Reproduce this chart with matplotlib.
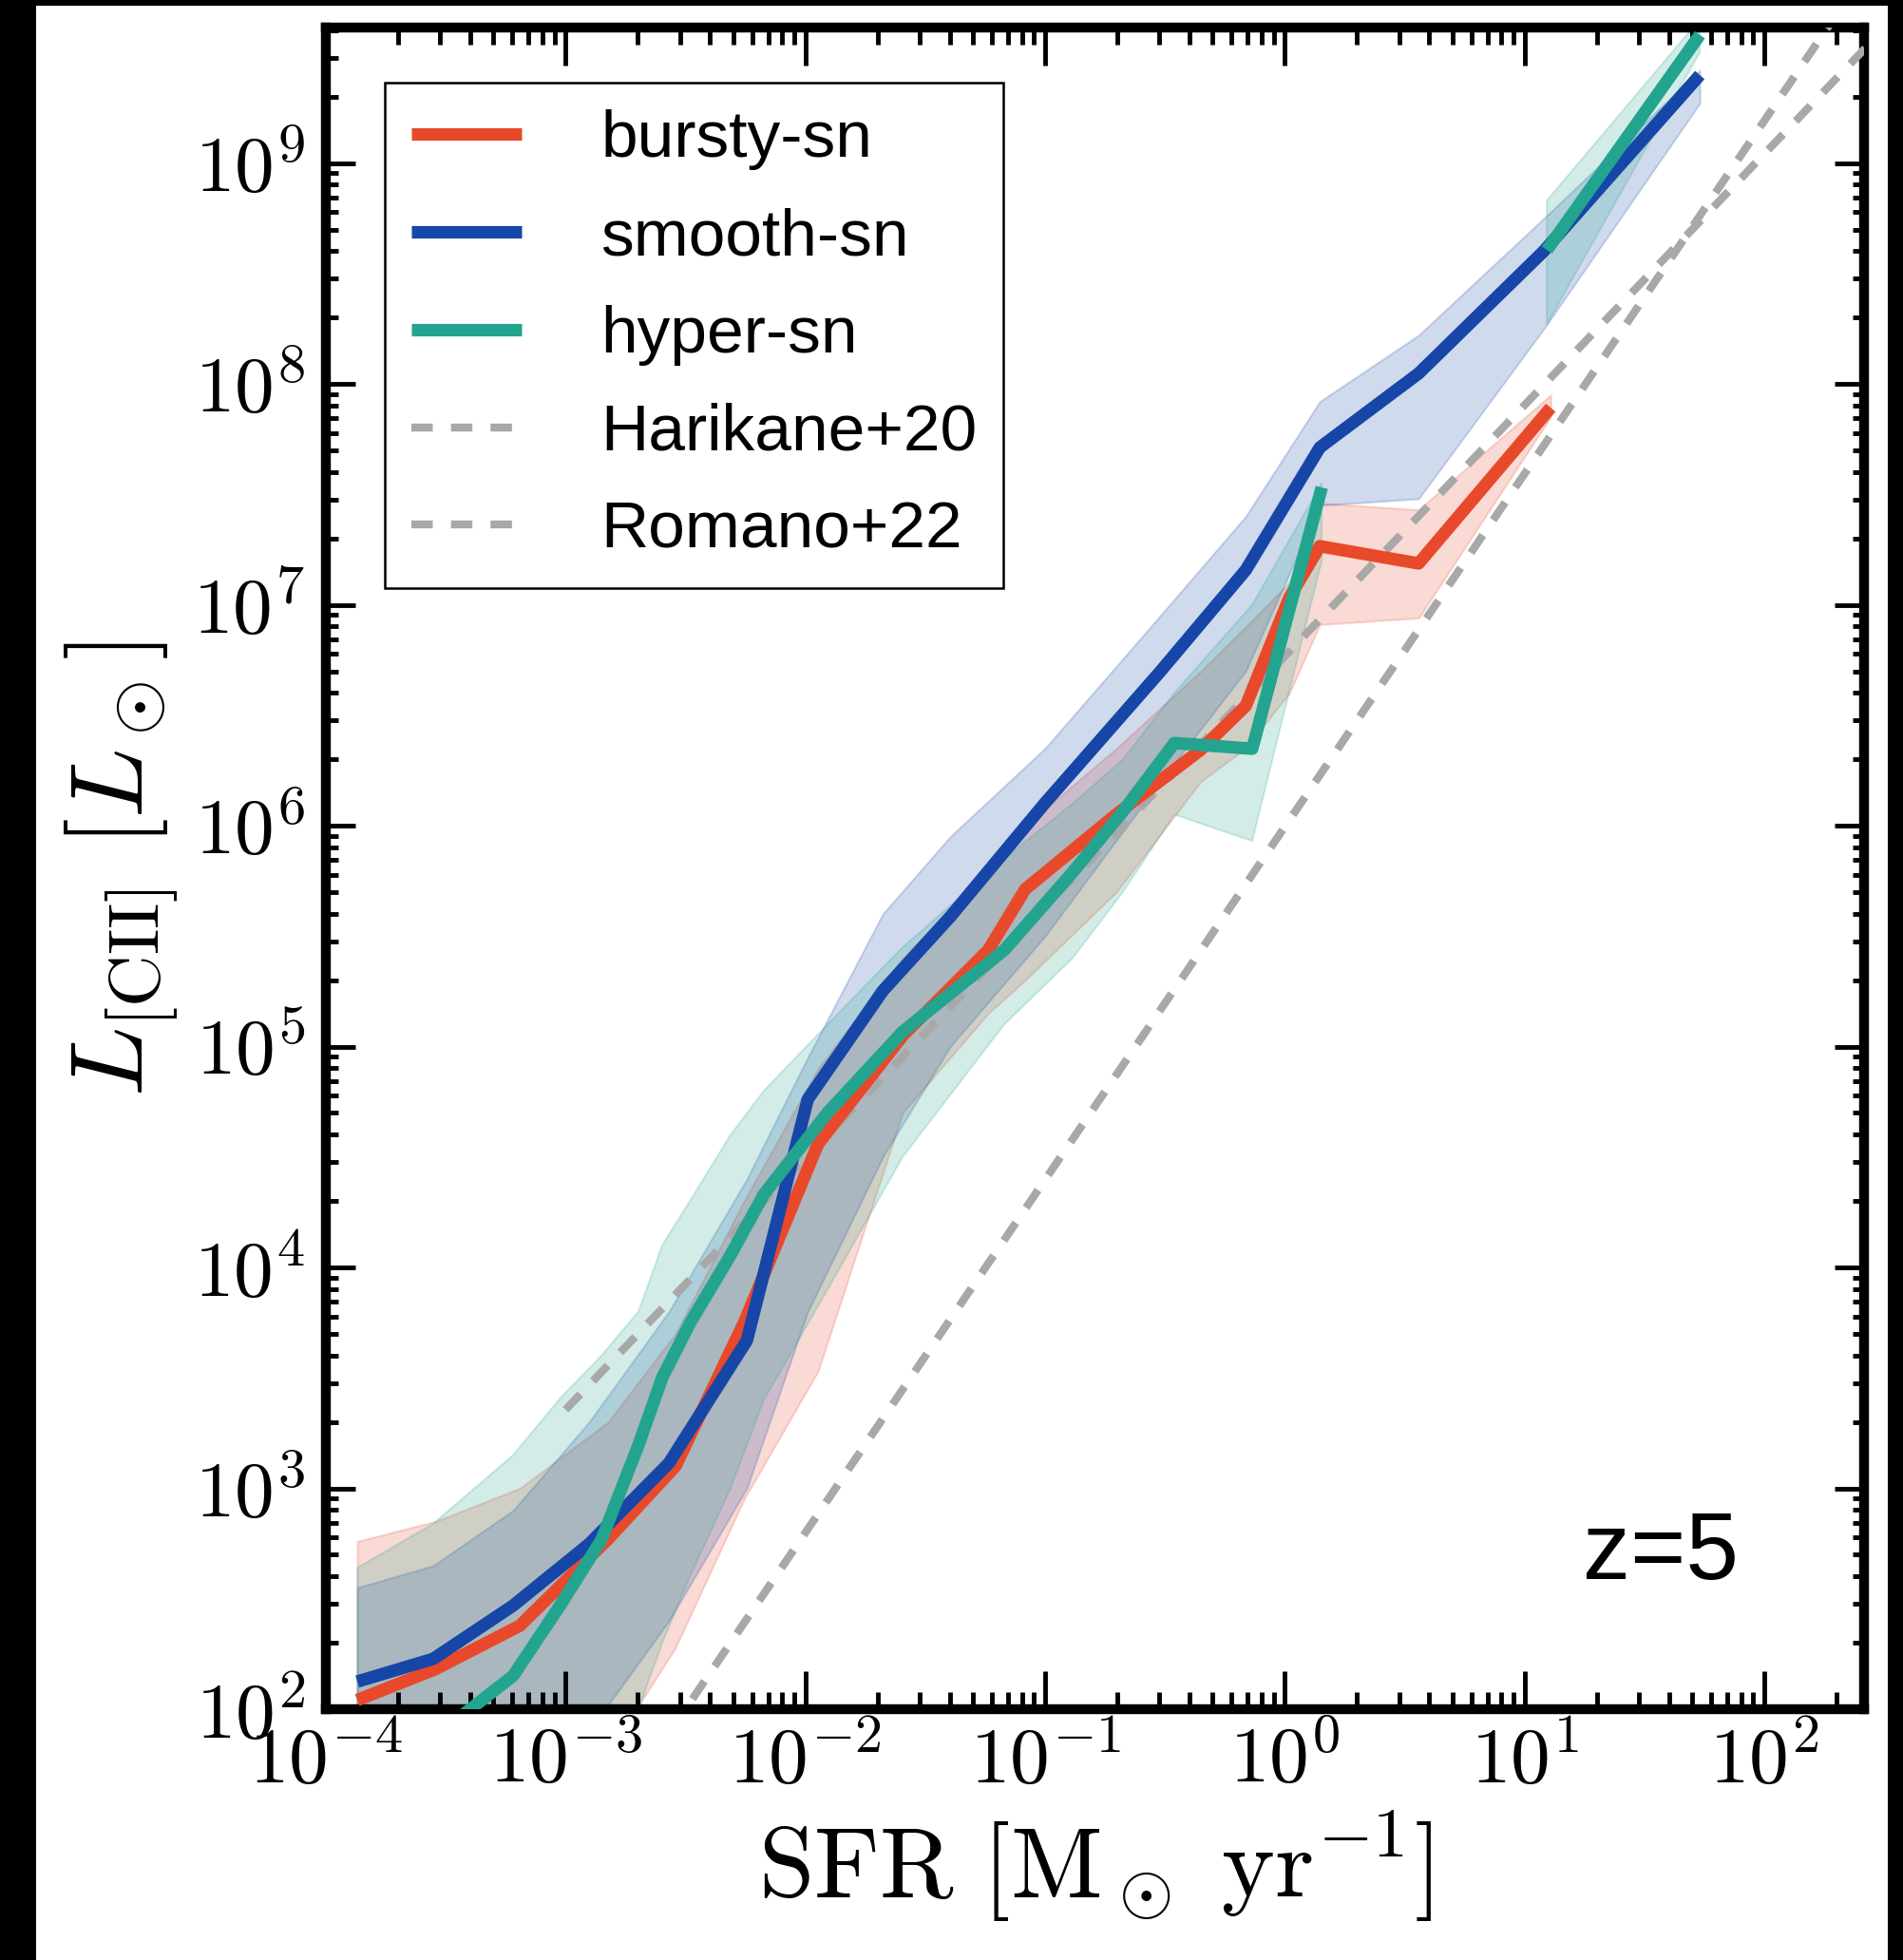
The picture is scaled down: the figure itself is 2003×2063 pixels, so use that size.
import numpy as np
import matplotlib
matplotlib.use("Agg")
from matplotlib import pyplot as plt
from matplotlib.patches import Rectangle
from matplotlib.ticker import LogLocator, NullFormatter

plt.rcParams['mathtext.fontset'] = 'cm'
plt.rcParams['font.family'] = ['Liberation Sans', 'DejaVu Sans']

# log10 SFR / log10 L[CII]
bursty_x = [-3.869, -3.544, -3.191, -2.823, -2.541, -2.256, -1.947, -1.594, -1.237,
            -1.083, -0.702, -0.350, -0.163, 0.019, 0.146, 0.558, 1.109]
bursty_y = [2.041, 2.181, 2.378, 2.770, 3.101, 3.75, 4.559, 5.049, 5.437,
            5.712, 6.052, 6.344, 6.542, 7.032, 7.265, 7.187, 7.892]
bursty_lo = [1.0, 1.2, 1.5, 1.8, 2.28, 2.95, 3.53, 4.7, 5.15, 5.3, 5.7, 6.2, 6.35,
             6.6, 6.91, 6.94, 7.85]
bursty_hi = [2.76, 2.85, 3.0, 3.3, 3.7, 4.3, 4.9, 5.4, 5.8, 6.0, 6.35, 6.7, 6.9,
             7.1, 7.46, 7.43, 7.95]

smooth_x = [-3.869, -3.552, -3.219, -2.902, -2.569, -2.244, -1.990, -1.677, -1.396,
            -1.000, -0.520, -0.163, 0.146, 0.558, 1.081, 1.731]
smooth_y = [2.125, 2.228, 2.469, 2.748, 3.114, 3.669, 4.761, 5.252, 5.587,
            6.103, 6.697, 7.157, 7.712, 8.047, 8.602, 9.398]
smooth_lo = [1.0, 1.3, 1.6, 1.9, 2.4, 3.0, 3.8, 4.5, 5.0, 5.5, 6.2, 6.7, 7.45,
             7.48, 8.25, 9.27]
smooth_hi = [2.55, 2.65, 2.9, 3.3, 3.8, 4.4, 4.95, 5.6, 5.95, 6.35, 6.95, 7.4,
             7.92, 8.22, 8.75, 9.42]

hyper_x = [-3.869, -3.552, -3.219, -3.021, -2.851, -2.696, -2.597, -2.482, -2.312,
           -2.173, -1.907, -1.594, -1.170, -0.885, -0.675, -0.461, -0.136, 0.154,
           0.55, 1.093, 1.731]
hyper_y = [1.6, 1.87, 2.151, 2.473, 2.766, 3.196, 3.501, 3.746, 4.056,
           4.331, 4.701, 5.067, 5.437, 5.789, 6.065, 6.374, 6.348, 7.531,
           np.nan, 8.606, 9.58]
hyper_lo = [0.8, 1.0, 1.3, 1.55, 1.85, 2.0, 2.3, 2.6, 3.0, 3.4, 3.9, 4.5, 5.1,
            5.4, 5.7, 6.05, 5.93, 7.2, np.nan, 8.27, 9.5]
hyper_hi = [2.64, 2.84, 3.15, 3.41, 3.6, 3.8, 4.1, 4.3, 4.6, 4.8, 5.1, 5.45,
            5.85, 6.1, 6.3, 6.6, 7.0, 7.55, np.nan, 8.83, 9.65]

# literature relations: log L = slope * log SFR + norm
harikane_slope, harikane_norm = 1.598, 5.995
romano_slope, romano_norm = 1.137, 6.767

red = '#e8492a'
blue = '#1646a8'
green = '#23a48f'
grey = '#a8a8a8'

fig = plt.figure(figsize=(20.03, 20.63), dpi=100, facecolor='black')
fig.patches.append(Rectangle((38 / 2003, 0), (1987 - 38) / 2003, 1 - 6 / 2063,
                             transform=fig.transFigure, facecolor='white',
                             edgecolor='none', zorder=-10))
ax = fig.add_axes([343 / 2003, 1 - 1799 / 2063, (1962 - 343) / 2003, (1799 - 29) / 2063])
ax.set_zorder(1)

for xs, ys, lo, hi, c, lab in [(bursty_x, bursty_y, bursty_lo, bursty_hi, red, 'bursty-sn'),
                                (smooth_x, smooth_y, smooth_lo, smooth_hi, blue, 'smooth-sn'),
                                (hyper_x, hyper_y, hyper_lo, hyper_hi, green, 'hyper-sn')]:
    sx = 10 ** np.array(xs)
    ax.fill_between(sx, 10 ** np.array(lo), 10 ** np.array(hi), color=c, alpha=0.2,
                    lw=1.5)
    ax.plot(sx, 10 ** np.array(ys), color=c, lw=9.5, label=lab,
            solid_capstyle='butt', zorder=5)

sfr = np.logspace(-4, 3, 50)
ax.plot(sfr, 10 ** (harikane_slope * np.log10(sfr) + harikane_norm), color=grey,
        lw=6, dashes=(2.7, 2.3), label='Harikane+20', zorder=4)
sfr2 = np.logspace(-3, 3, 50)
ax.plot(sfr2, 10 ** (romano_slope * np.log10(sfr2) + romano_norm), color=grey,
        lw=6, dashes=(2.7, 2.3), label='Romano+22', zorder=4)

ax.set_xscale('log')
ax.set_yscale('log')

ax.xaxis.set_minor_locator(LogLocator(base=10, subs=np.arange(2, 10), numticks=20))
ax.yaxis.set_minor_locator(LogLocator(base=10, subs=np.arange(2, 10), numticks=20))
ax.xaxis.set_minor_formatter(NullFormatter())
ax.yaxis.set_minor_formatter(NullFormatter())
ax.set_xticks([10.0 ** k for k in range(-4, 3)])
ax.set_xticklabels([r'$10^{%d}$' % k for k in range(-4, 3)])
ax.set_yticks([10.0 ** k for k in range(2, 10)])
ax.set_yticklabels([r'$10^{%d}$' % k for k in range(2, 10)])
ax.set_xlim(1e-4, 10 ** 2.416)
ax.set_ylim(1e2, 10 ** 9.613)

ax.tick_params(axis='x', which='major', direction='in', length=29, width=3.5,
               top=True, labelsize=60, pad=12)
ax.tick_params(axis='x', which='minor', direction='in', length=13, width=3.5, top=True)
ax.tick_params(axis='y', which='major', direction='in', length=22, width=3.5,
               right=True, labelsize=60, pad=16)
ax.tick_params(axis='y', which='minor', direction='in', length=9, width=3.5, right=True)
for s in ax.spines.values():
    s.set_linewidth(7.5)

ax.set_xlabel(r'${\rm SFR}\ [{\rm M_\odot\ yr^{-1}}]$', fontsize=76, labelpad=8)
ax.set_ylabel(r'$L_{\rm [CII]}\ [L_\odot]$', fontsize=78, labelpad=10)

ax.text(0.868, 0.092, 'z=5', transform=ax.transAxes, fontsize=72, ha='center',
        va='center')

leg = ax.legend(loc='upper left', bbox_to_anchor=(0.0383, 0.967), borderaxespad=0,
                fontsize=50, handlelength=1.67, handletextpad=1.2, labelspacing=0.56,
                borderpad=0.4, fancybox=False, framealpha=1, edgecolor='black')
leg.get_frame().set_linewidth(1.8)

fig.savefig('out.png', dpi=100, facecolor=fig.get_facecolor())
